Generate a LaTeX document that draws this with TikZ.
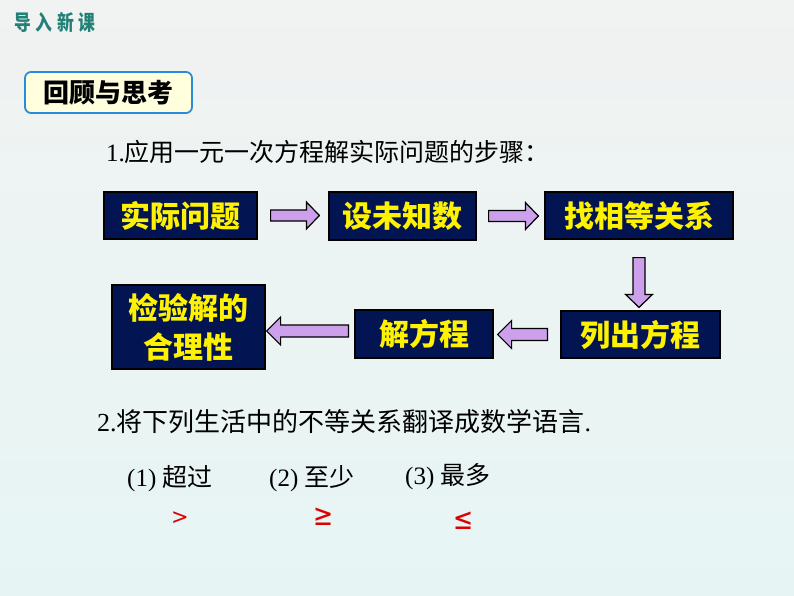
\documentclass[tikz,border=0pt]{standalone}
\usepackage{fontspec}
\usetikzlibrary{calc}
\setmainfont{Liberation Serif}
\newfontfamily\cjk{Noto Sans CJK SC}
\newfontfamily\cjknarrow{Noto Sans CJK SC}[FakeStretch=0.8]
\newfontfamily\dejavu{DejaVu Sans}
\definecolor{bgtop}{RGB}{241,242,242}
\definecolor{bgbot}{RGB}{230,245,244}
\definecolor{navyedge}{RGB}{2,20,82}
\definecolor{navymid}{RGB}{28,58,148}
\definecolor{lav}{RGB}{205,160,235}
\definecolor{tealtxt}{RGB}{35,128,118}
\definecolor{cream}{RGB}{255,255,222}
\definecolor{frameblue}{RGB}{40,140,220}
\definecolor{redsym}{RGB}{220,0,0}
\tikzset{
  stepbox/.style={draw=black, line width=1.2pt, top color=navyedge, middle color=navymid, bottom color=navyedge,
    text=yellow, font=\cjk\bfseries\fontsize{30}{40}\selectfont, inner sep=0pt, align=center},
  arrR/.style={draw=black, line width=1.2pt, fill=lav, line join=miter, to path={let \p1=(\tikztostart),\p2=(\tikztotarget) in
    (\x1,\y1-5.5pt) -- (\x2-13pt,\y1-5.5pt) -- (\x2-13pt,\y1-13.5pt) -- (\x2,\y1) -- (\x2-13pt,\y1+13.5pt) -- (\x2-13pt,\y1+5.5pt) -- (\x1,\y1+5.5pt) -- cycle}},
  arrL/.style={draw=black, line width=1.2pt, fill=lav, line join=miter, to path={let \p1=(\tikztostart),\p2=(\tikztotarget) in
    (\x1,\y1-6pt) -- (\x2+14pt,\y1-6pt) -- (\x2+14pt,\y1-14pt) -- (\x2,\y1) -- (\x2+14pt,\y1+14pt) -- (\x2+14pt,\y1+6pt) -- (\x1,\y1+6pt) -- cycle}},
  arrD/.style={draw=black, line width=1.2pt, fill=lav, line join=miter, to path={let \p1=(\tikztostart),\p2=(\tikztotarget) in
    (\x1-6pt,\y1) -- (\x1-6pt,\y2+13pt) -- (\x1-13.5pt,\y2+13pt) -- (\x1,\y2) -- (\x1+13.5pt,\y2+13pt) -- (\x1+6pt,\y2+13pt) -- (\x1+6pt,\y1) -- cycle}},
  plaintxt/.style={anchor=base west, inner sep=0pt, font=\fontsize{25}{30}\selectfont},
  relsym/.style={anchor=base, inner sep=0pt, text=redsym},
}
\begin{document}
\begin{tikzpicture}[x=1pt,y=-1pt]
\fill[top color=bgtop, bottom color=bgbot] (0,0) rectangle (794,596);
\useasboundingbox (0,0) rectangle (794,596);

\node[anchor=base west, inner sep=0pt, text=tealtxt, font=\cjknarrow\bfseries\fontsize{21}{24}\selectfont] (title) at (14,31)
  {导\hspace{4.8pt}入\hspace{4.8pt}新\hspace{4.8pt}课};

\node[draw=frameblue, line width=1.8pt, rounded corners=6pt, fill=cream, minimum width=167pt, minimum height=41pt,
  inner sep=0pt, font=\cjk\bfseries\fontsize{26}{30}\selectfont] (review) at (108.5,92.5) {回顾与思考};

\node[plaintxt] (q1) at (106,162) {1.{\cjk 应用一元一次方程解实际问题的步骤：}};

\node[stepbox, minimum width=153pt, minimum height=47pt] (b1) at (180.5,215.5) {实际问题};
\node[stepbox, minimum width=147pt, minimum height=48pt] (b2) at (402.5,216) {设未知数};
\node[stepbox, minimum width=188pt, minimum height=47pt] (b3) at (639,215.5) {找相等关系};
\node[stepbox, minimum width=159pt, minimum height=47pt] (b4) at (640.5,334.5) {列出方程};
\node[stepbox, minimum width=138pt, minimum height=48pt] (b5) at (424,334) {解方程};
\node[stepbox, minimum width=153pt, minimum height=84pt, font=\cjk\bfseries\fontsize{30}{39}\selectfont] (b6) at (188.5,327) {检验解的\\合理性};

\draw[arrR] ([xshift=13pt]b1.east) to ([xshift=-9pt]b2.west);
\draw[arrR] ([xshift=12pt]b2.east) to ([xshift=-6pt]b3.west);
\draw[arrD] ([yshift=-18pt]b3.south) to ([yshift=3pt]b3.south |- b4.north);
\draw[arrL] ([xshift=-13pt]b4.west) to ([xshift=4pt]b5.east);
\draw[arrL] ([xshift=-6pt]b5.west |- 0,331) to ([xshift=1pt]b6.east |- 0,331);

\node[plaintxt, font=\fontsize{26}{30}\selectfont] (q2) at (97,431) {2.{\cjk 将下列生活中的不等关系翻译成数学语言}.};

\node[plaintxt] (i1) at (127,486) {(1) {\cjk 超过}};
\node[plaintxt] (i2) at (269,486) {(2) {\cjk 至少}};
\node[plaintxt] (i3) at (405,484) {(3) {\cjk 最多}};

\node[relsym, font=\dejavu\fontsize{22}{24}\selectfont, xscale=0.95] (s1) at (180,524) {>};
\node[relsym, font=\dejavu\fontsize{30}{32}\selectfont, xscale=0.8] (s2) at (324,525) {≥};
\node[relsym, font=\dejavu\fontsize{30}{32}\selectfont, xscale=0.8] (s3) at (464,529) {≤};
\end{tikzpicture}
\end{document}
